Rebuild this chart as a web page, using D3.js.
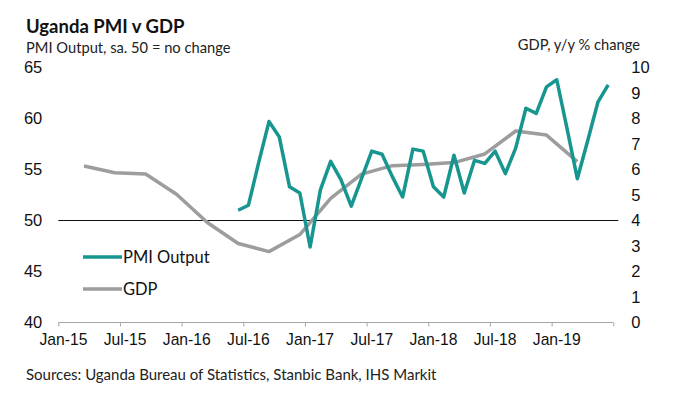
<!DOCTYPE html>
<html>
<head>
<meta charset="utf-8">
<script src="https://cdn.jsdelivr.net/npm/d3@7"></script>
<style>
  body { margin: 0; background: #fff; }
  svg { display: block; font-family: Lato, "Open Sans", sans-serif; }
</style>
</head>
<body>
<svg id="chart" width="679" height="395"></svg>
<script>
// monthly categories, Jan-15 .. Jun-19
const months = d3.timeMonth.range(new Date(2015, 0, 1), new Date(2019, 6, 1)).map(d3.timeFormat("%b-%y"));

const tickLabels = ["Jan-15", "Jul-15", "Jan-16", "Jul-16", "Jan-17", "Jul-17", "Jan-18", "Jul-18", "Jan-19"];
const leftTicks = [40, 45, 50, 55, 60, 65];
const rightTicks = [0, 1, 2, 3, 4, 5, 6, 7, 8, 9, 10];

// PMI output, Jun-16 .. Jun-19
const pmiStart = "Jun-16";
const pmiValues = [51.0, 51.5, 55.7, 59.7, 58.2, 53.3, 52.7, 47.4, 53.0, 55.8, 54.0, 51.4,
  54.1, 56.8, 56.5, 54.3, 52.3, 57.0, 56.8, 53.3, 52.3, 56.4, 52.7, 55.9,
  55.6, 56.8, 54.6, 57.1, 61.0, 60.5, 63.1, 63.8, 59.0, 54.1, 57.8, 61.6, 63.3];

// GDP y/y %, quarterly
const gdpMonths = ["Mar-15", "Jun-15", "Sep-15", "Dec-15", "Mar-16", "Jun-16", "Sep-16", "Dec-16",
  "Mar-17", "Jun-17", "Sep-17", "Dec-17", "Mar-18", "Jun-18", "Sep-18", "Dec-18", "Mar-19"];
const gdpValues = [6.14, 5.87, 5.82, 5.03, 3.92, 3.10, 2.78, 3.45, 4.87, 5.82, 6.15, 6.20, 6.27, 6.61, 7.51, 7.35, 6.31];

const teal = "#17958f", grey = "#9d9d9d";

const svg = d3.select("#chart");
const x0 = 58.3, x1 = 613.3, yTop = 67.5, yBot = 322.5;

const x = d3.scaleBand().domain(months).range([x0, x1]);
const xIdx = d3.scaleLinear().domain([0, months.length]).range([x0, x1]);
const yL = d3.scaleLinear().domain([40, 65]).range([yBot, yTop]);
const yR = d3.scaleLinear().domain([0, 10]).range([yBot, yTop]);
const cx = m => x(m) + x.bandwidth() / 2;

// titles
svg.append("text").attr("x", 26).attr("y", 33).attr("font-size", 18.5).attr("font-weight", 700)
  .attr("fill", "#111").text("Uganda PMI v GDP");
svg.append("text").attr("x", 26).attr("y", 53).attr("font-size", 14.7).attr("fill", "#222")
  .text("PMI Output, sa. 50 = no change");
svg.append("text").attr("x", 640).attr("y", 50).attr("font-size", 14.7).attr("fill", "#222")
  .attr("text-anchor", "end").text("GDP, y/y % change");
svg.append("text").attr("x", 26).attr("y", 380).attr("font-size", 15).attr("fill", "#222")
  .text("Sources: Uganda Bureau of Statistics, Stanbic Bank, IHS Markit");

// left axis
const gl = svg.append("g").attr("transform", `translate(${x0 - 16},0)`)
  .call(d3.axisLeft(yL).tickValues(leftTicks).tickSize(0).tickPadding(0));
gl.select(".domain").remove();
gl.selectAll("text").attr("font-size", 16.5).attr("fill", "#111").attr("font-family", null);

// right axis
const gr = svg.append("g").attr("transform", `translate(${x1 + 18},0)`)
  .call(d3.axisRight(yR).tickValues(rightTicks).tickSize(0).tickPadding(0));
gr.select(".domain").remove();
gr.selectAll("text").attr("font-size", 16.5).attr("fill", "#111").attr("font-family", null);

// x axis: ticks at band edges, labels at band centres
const gx = svg.append("g").attr("transform", `translate(0,${yBot})`)
  .call(d3.axisBottom(xIdx).tickValues(d3.range(0, months.length + 1, 6)).tickSize(4).tickFormat(""));
gx.select(".domain").attr("stroke", "#a6a6a6").attr("d", `M${x0},0H${x1}`);
gx.selectAll(".tick line").attr("stroke", "#a6a6a6");

const gxl = svg.append("g").attr("transform", `translate(0,${yBot})`)
  .call(d3.axisBottom(x).tickValues(months.filter(m => tickLabels.includes(m))).tickSize(0).tickPadding(11));
gxl.select(".domain").remove();
gxl.selectAll("text").attr("font-size", 15.7).attr("fill", "#111").attr("font-family", null);

// 50 line
svg.append("line").attr("x1", x0).attr("x2", x1 + 5).attr("y1", yL(50)).attr("y2", yL(50))
  .attr("stroke", "#111").attr("stroke-width", 1.2);

// GDP line
const gdpData = gdpMonths.map((m, i) => ({ m, v: gdpValues[i] }));
svg.append("path").datum(gdpData)
  .attr("d", d3.line().x(d => cx(d.m)).y(d => yR(d.v)))
  .attr("fill", "none").attr("stroke", grey).attr("stroke-width", 3.5).attr("stroke-linejoin", "round");

// PMI line
const s = months.indexOf(pmiStart);
const pmiData = pmiValues.map((v, i) => ({ m: months[s + i], v }));
svg.append("path").datum(pmiData)
  .attr("d", d3.line().x(d => cx(d.m)).y(d => yL(d.v)))
  .attr("fill", "none").attr("stroke", teal).attr("stroke-width", 3.5).attr("stroke-linejoin", "round");

// legend
const legend = [{ name: "PMI Output", color: teal, y: 257 }, { name: "GDP", color: grey, y: 289 }];
legend.forEach(l => {
  svg.append("line").attr("x1", 83).attr("x2", 122).attr("y1", l.y).attr("y2", l.y)
    .attr("stroke", l.color).attr("stroke-width", 3.5);
  svg.append("text").attr("x", 123).attr("y", l.y).attr("dy", "0.35em").attr("font-size", 16.5)
    .attr("fill", "#111").text(l.name);
});
</script>
</body>
</html>
